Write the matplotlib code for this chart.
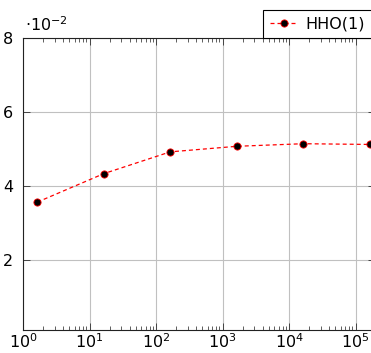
import numpy as np
import matplotlib
matplotlib.use("Agg")
import matplotlib.pyplot as plt
from matplotlib.ticker import LogLocator, FixedLocator, FuncFormatter, NullFormatter

plt.rcParams['font.family'] = ['DejaVu Sans']
plt.rcParams['mathtext.fontset'] = 'dejavusans'

# data
x_vals = [1.64, 16.4, 164, 1640, 16400, 164000]
hho1 = [0.0356, 0.0433, 0.0492, 0.0507, 0.0514, 0.0512]
series_label = "HHO(1)"
y_ticks = [0.02, 0.04, 0.06, 0.08]

W, H = 371, 353
fig = plt.figure(figsize=(W / 100, H / 100), dpi=100)
# axes box in pixels: left 23, right 375 (cut by the image), top 38, bottom 330
ax = fig.add_axes([23 / W, (H - 330) / H, (375 - 23) / W, (330 - 38) / H])

ax.plot(x_vals, hho1, color='red', linestyle=(0, (3.2, 2.4)), linewidth=0.9,
        marker='o', markersize=5.2, markerfacecolor='black',
        markeredgecolor='red', markeredgewidth=0.6, label=series_label, zorder=3)

ax.set_xscale('log')
ax.set_xlim(1, 10 ** ((375 - 23) / 66.5))
ax.set_ylim(0.001, 0.08)

ax.xaxis.set_major_locator(LogLocator(base=10, numticks=10))
ax.xaxis.set_minor_locator(LogLocator(base=10, subs=np.arange(2, 10), numticks=20))
ax.xaxis.set_minor_formatter(NullFormatter())
ax.yaxis.set_major_locator(FixedLocator(y_ticks))
ax.yaxis.set_major_formatter(FuncFormatter(lambda v, p: f"{v * 100:g}"))

ax.grid(True, which='major', color='#c0c0c0', linewidth=0.8)
ax.set_axisbelow(True)
ax.tick_params(which='both', direction='in', top=True, right=True,
               labelsize=11.5, color='#444444')
ax.tick_params(which='major', length=5, width=0.7)
ax.tick_params(which='minor', length=3, width=0.6)
ax.tick_params(axis='y', pad=7)
ax.tick_params(axis='x', pad=2)
for s in ax.spines.values():
    s.set_color('#222222')
    s.set_linewidth(0.8)

fig.text(25 / W, 1 - 31 / H, r"$\cdot10^{-2}$", fontsize=11.5, va='baseline', ha='left')

ax.legend(loc='lower left', bbox_to_anchor=(263 / W, (H - 38) / H),
          bbox_transform=fig.transFigure, fontsize=11.5, frameon=True,
          fancybox=False, edgecolor='black', framealpha=1,
          handlelength=1.8, handletextpad=0.45, borderpad=0.42,
          borderaxespad=0, numpoints=1).get_frame().set_linewidth(0.8)

fig.savefig("out.png", dpi=100)
